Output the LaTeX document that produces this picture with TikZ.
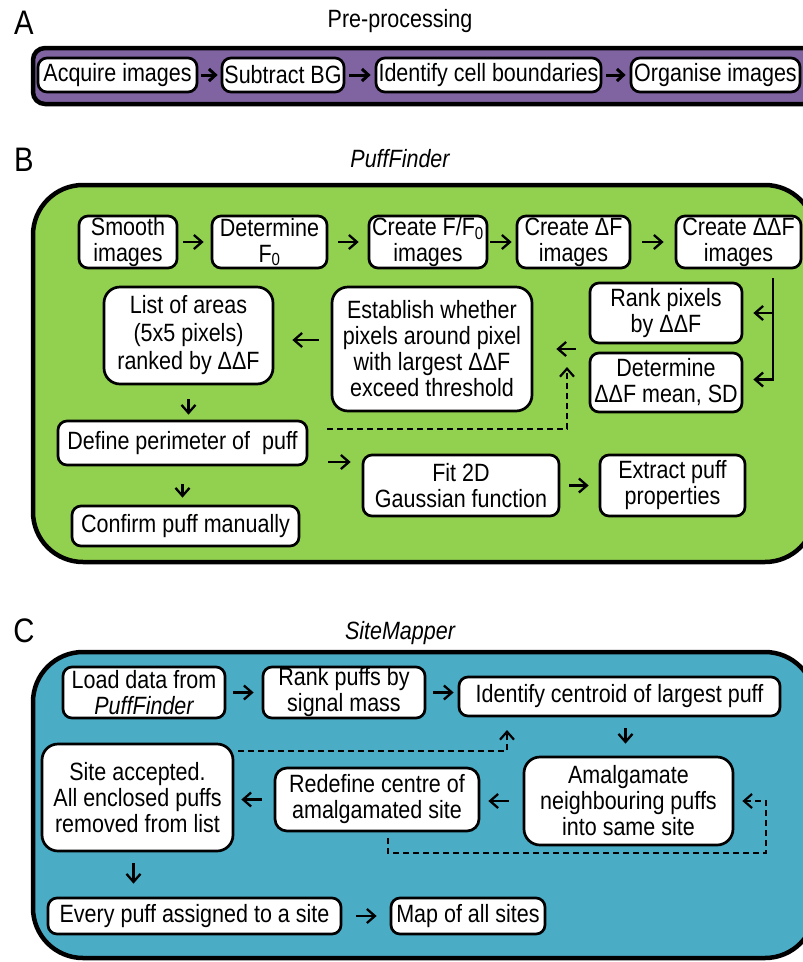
\documentclass[tikz,border=0pt]{standalone}
\usepackage{fontspec}
\setmainfont{Liberation Sans}[FakeStretch=0.86]
\usetikzlibrary{arrows.meta,calc}
\definecolor{pp}{HTML}{8064A2}
\definecolor{gg}{HTML}{92D050}
\definecolor{bb}{HTML}{4BACC6}
\begin{document}
\begin{tikzpicture}[x=1pt,y=-1pt,
  font=\fontsize{25}{26}\selectfont,
  box/.style={draw, line width=2.7pt, rounded corners=9pt, fill=white, align=center, inner sep=0pt},
  rbox/.style={box, rounded corners=16pt},
  panel/.style={draw, line width=4.5pt, rounded corners=50pt},
  arr/.style={line width=2.3pt, -{Straight Barb[length=8pt,width=14pt]}},
  arra/.style={line width=3pt, -{Straight Barb[length=6.5pt,width=12pt]}},
  dsh/.style={arr, line width=2.2pt, dash pattern=on 6pt off 4pt},
  lbl/.style={font=\fontsize{34}{34}\selectfont, anchor=base},
  ttl/.style={anchor=base}]
\clip (0,0) rectangle (803,962);
\fill[white] (0,0) rectangle (803,962);

% ---------- Panel A ----------
\node[lbl] (la) at (24,34) {A};
\node[ttl] (ta) at (400,27) {Pre-processing};
\draw[line width=4.5pt, rounded corners=12pt, fill=pp] (33,48) rectangle (815,104);
\node[box, minimum width=159pt, minimum height=34pt] (acq) at (117.5,75) {Acquire images};
\node[box, minimum width=122pt, minimum height=34pt] (sub) at (283,75) {Subtract BG};
\node[box, minimum width=225pt, minimum height=34pt] (ide) at (488.5,75) {Identify cell boundaries};
\node[box, minimum width=169pt, minimum height=34pt] (org) at (715.5,75) {Organise images};
\draw[arra, shorten <=3pt, shorten >=3pt] (acq) -- (sub);
\draw[arra, shorten <=4pt, shorten >=4pt] (sub) -- (ide);
\draw[arra, shorten <=4pt, shorten >=4pt] (ide) -- (org);

% ---------- Panel B ----------
\node[lbl] (lb) at (24,171) {B};
\node[ttl, font=\fontsize{25}{26}\selectfont\itshape] (tb) at (400,167) {PuffFinder};
\draw[panel, fill=gg] (33,185) rectangle (815,562);

\node[box, minimum width=98pt, minimum height=52pt] (smo) at (128,242) {Smooth\\images};
\node[box, minimum width=115pt, minimum height=52pt] (det) at (269.5,242) {Determine\\F\textsubscript{0}};
\node[box, minimum width=118pt, minimum height=52pt] (cf) at (428,242) {Create F/F\textsubscript{0}\\images};
\node[box, minimum width=113pt, minimum height=52pt] (cdf) at (573.5,242) {Create ΔF\\images};
\node[box, minimum width=125pt, minimum height=52pt] (cddf) at (738.5,242) {Create ΔΔF\\images};
\draw[arr, shorten <=5pt, shorten >=7pt] (smo) -- (det);
\draw[arr, shorten <=10pt, shorten >=9pt] (det) -- (cf);
\draw[arr, shorten <=2pt, shorten >=4pt] (cf) -- (cdf);
\draw[arr, shorten <=11pt, shorten >=11pt] (cdf) -- (cddf);

\node[rbox, minimum width=169pt, minimum height=97pt, font=\fontsize{25}{28}\selectfont] (list) at (188.5,335.5) {List of areas\\(5x5 pixels)\\ranked by ΔΔF};
\node[rbox, minimum width=200pt, minimum height=124pt] (est) at (432,349) {Establish whether\\pixels around pixel\\with largest ΔΔF\\exceed threshold};
\node[box, minimum width=152pt, minimum height=60pt] (rank) at (666,313) {Rank pixels\\by ΔΔF};
\node[box, minimum width=152pt, minimum height=59pt] (dmean) at (666,382.5) {Determine\\ΔΔF mean, SD};

\coordinate (vb) at (773,278);
\draw[arr, shorten >=10pt] (vb) |- ([yshift=3pt]dmean.east);
\draw[arr, shorten >=10pt] (vb |- rank.east) -- (rank.east);
\draw[arr, shorten <=13pt, shorten >=23pt] (est.east -| rank.west) -- (est.east);
\draw[arr, shorten <=12pt, shorten >=18pt] ([yshift=9pt]est.west) -- ([yshift=9pt]est.west -| list.east);

\node[box, minimum width=249pt, minimum height=44pt] (def) at (182.5,443) {Define perimeter of~ puff};
\node[box, minimum width=227pt, minimum height=40pt] (conf) at (185.5,526) {Confirm puff manually};
\node[box, minimum width=196pt, minimum height=61pt] (fit) at (461,485.5) {Fit 2D\\Gaussian function};
\node[box, minimum width=145pt, minimum height=61pt] (ext) at (672.5,485.5) {Extract puff\\properties};

\draw[arr, shorten <=14pt, shorten >=5pt] (list.south) -- (list.south |- def.north);
\draw[arr, shorten <=18pt, shorten >=7pt] (def.south) -- (def.south |- conf.north);
\draw[arr, shorten <=20pt, shorten >=11pt] ([yshift=-19pt]def.east) -- ([yshift=-19pt]def.east -| fit.west);
\draw[arr, shorten <=9pt, shorten >=10pt] (fit) -- (ext);

\coordinate (db1) at (327,429);
\coordinate (db2) at (567,367);
\draw[dsh] (db1) -| (db2);

% ---------- Panel C ----------
\node[lbl] (lc) at (24,642) {C};
\node[ttl, font=\fontsize{25}{26}\selectfont\itshape] (tc) at (400,639) {SiteMapper};
\draw[panel, fill=bb] (33,652) rectangle (815,958);

\node[box, minimum width=162pt, minimum height=51pt] (load) at (144,692.5) {Load data from\\\itshape PuffFinder};
\node[box, minimum width=162pt, minimum height=51pt] (rankp) at (344,692.5) {Rank puffs by\\signal mass};
\node[box, minimum width=321pt, minimum height=39pt] (idc) at (619.5,696.5) {Identify centroid of largest puff};
\node[rbox, minimum width=209pt, minimum height=88pt] (amal) at (628.5,801) {Amalgamate\\neighbouring puffs\\into same site};
\node[box, rounded corners=12pt, minimum width=204pt, minimum height=63pt] (redef) at (377,799.5) {Redefine centre of\\amalgamated site};
\node[rbox, minimum width=191pt, minimum height=107pt] (site) at (137.5,797.5) {Site accepted.\\All enclosed puffs\\removed from list};
\node[box, minimum width=293pt, minimum height=36pt] (every) at (194.5,916) {Every puff assigned to a site};
\node[box, minimum width=154pt, minimum height=36pt] (map) at (468,916) {Map of all sites};

\draw[arr, shorten <=7pt, shorten >=8pt] (load) -- (rankp);
\draw[arr, shorten <=7pt, shorten >=4pt] (rankp.east) -- (rankp.east -| idc.west);
\draw[arr, shorten <=11pt, shorten >=12pt] ([xshift=6pt]idc.south) -- ([xshift=6pt]idc.south |- amal.north);
\draw[arr, shorten <=14pt, shorten >=8pt] (amal.west) -- (amal.west -| redef.east);
\draw[arr, shorten <=12pt, shorten >=7pt] (redef.west) -- (redef.west -| site.east);
\draw[arr, shorten <=11pt, shorten >=13pt] ([xshift=-4pt]site.south) -- ([xshift=-4pt]site.south |- every.north);
\draw[arr, shorten <=14pt, shorten >=13pt] (every) -- (map);

\coordinate (dc1) at (238,751);
\coordinate (dc1e) at (507,730);
\draw[dsh] (dc1) -| (dc1e);
\coordinate (dc2) at (766,853);
\draw[dsh, shorten >=8pt] ([xshift=11pt,yshift=-6pt]redef.south) |- (dc2) |- (amal.east);
\end{tikzpicture}
\end{document}
